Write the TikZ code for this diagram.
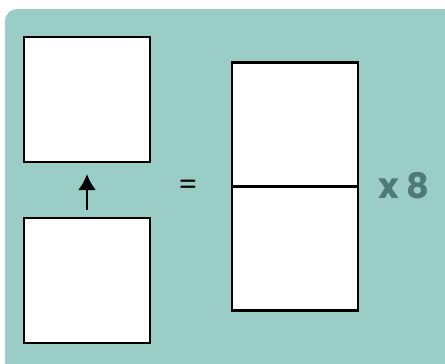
\documentclass[tikz,border=0pt]{standalone}
\usepackage{fontspec}
\setmainfont{Poppins}
\usetikzlibrary{arrows.meta}
\definecolor{panel}{RGB}{154,205,198}
\definecolor{factor}{RGB}{80,122,120}
\tikzset{
	box/.style={draw, fill=white, line width=2pt, inner sep=0pt, minimum width=3.15cm, minimum height=3.12cm},
	half/.style={box, minimum height=3.09cm}
}
\begin{document}
\begin{tikzpicture}[x=0.025cm, y=-0.025cm]
		\useasboundingbox (0, 0) rectangle (445, 363);
		\fill [panel, rounded corners=0.3cm](5, 9) rectangle (470, 390);
		\node (top)at (87, 99.5)[box]  {};
		\node (bottom)at(87, 280.5)[box]  {};
		\node (upper)at(295, 124.5)[half]  {};
		\node (lower)at(295, 248.5)[half]  {};
		\node (eq)at(188, 187)[font=\fontsize{20}{20}\selectfont]  {=};
		\node (times)at(404, 186)[text=factor, font=\fontsize{25}{25}\selectfont\bfseries]  {x 8};
		\draw [-{Latex[length=0.4cm, width=0.45cm]}, line width=1.5pt, shorten <=0.17cm, shorten >=0.27cm](bottom)--(top);
	\end{tikzpicture}
\end{document}
